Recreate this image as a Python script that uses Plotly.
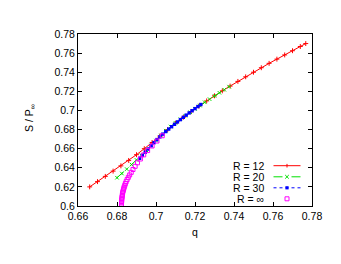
import plotly.graph_objects as go

# ---- data ----
q_r12 = [0.666, 0.670, 0.674, 0.678, 0.682, 0.686, 0.690, 0.694, 0.698, 0.702,
         0.706, 0.710, 0.714, 0.718, 0.722, 0.726, 0.730, 0.734, 0.738, 0.742,
         0.746, 0.750, 0.754, 0.758, 0.762, 0.766, 0.770, 0.774, 0.7768]
s_r12 = [0.6200, 0.6255, 0.6310, 0.6365, 0.6420, 0.6477, 0.6537, 0.6600, 0.6665, 0.6732,
         0.6800, 0.6866, 0.6928, 0.6987, 0.7045, 0.7100, 0.7153, 0.7205, 0.7255, 0.7304,
         0.7352, 0.7400, 0.7447, 0.7493, 0.7537, 0.7581, 0.7625, 0.7669, 0.7700]

q_r20 = [0.6800, 0.6825, 0.6850, 0.6875, 0.6900, 0.6925, 0.6950, 0.6975, 0.7000, 0.7025,
         0.7050, 0.7075, 0.7100, 0.7125, 0.7150, 0.7175, 0.7200, 0.7225, 0.7250, 0.7275,
         0.7300, 0.7325, 0.7350, 0.7375]
s_r20 = [0.6296, 0.6340, 0.6386, 0.6433, 0.6482, 0.6532, 0.6583, 0.6634, 0.6685, 0.6737,
         0.6788, 0.6832, 0.6870, 0.6908, 0.6945, 0.6981, 0.7016, 0.7051, 0.7085, 0.7118,
         0.7152, 0.7185, 0.7217, 0.7249]

q_r30 = [0.6916, 0.6930, 0.6945, 0.6960, 0.6975, 0.6990, 0.7005, 0.7020, 0.7035, 0.7050,
         0.7065, 0.7080, 0.7095, 0.7110, 0.7125, 0.7140, 0.7155, 0.7170, 0.7185, 0.7200,
         0.7215, 0.7230]
s_r30 = [0.6499, 0.6530, 0.6563, 0.6596, 0.6630, 0.6663, 0.6695, 0.6724, 0.6752, 0.6779,
         0.6805, 0.6830, 0.6855, 0.6880, 0.6904, 0.6928, 0.6951, 0.6974, 0.6997, 0.7019,
         0.7041, 0.7062]

q_rinf = [0.6823, 0.6823, 0.6823, 0.6824, 0.6824, 0.6825, 0.6826, 0.6827, 0.6828, 0.6829,
          0.6831, 0.6833, 0.6835, 0.6837, 0.6840, 0.6843, 0.6847, 0.6852, 0.6858, 0.6865,
          0.6873, 0.6882, 0.6893, 0.6905, 0.6920, 0.6937, 0.6957, 0.6980, 0.7005, 0.7032]
s_rinf = [0.6005, 0.6020, 0.6035, 0.6050, 0.6065, 0.6080, 0.6095, 0.6110, 0.6125, 0.6140,
          0.6155, 0.6170, 0.6185, 0.6200, 0.6217, 0.6235, 0.6255, 0.6277, 0.6300, 0.6325,
          0.6352, 0.6382, 0.6415, 0.6452, 0.6492, 0.6535, 0.6580, 0.6628, 0.6680, 0.6735]

x_ticks = [0.66, 0.68, 0.70, 0.72, 0.74, 0.76, 0.78]
x_tick_labels = ["0.66", "0.68", "0.7", "0.72", "0.74", "0.76", "0.78"]
y_ticks = [0.60, 0.62, 0.64, 0.66, 0.68, 0.70, 0.72, 0.74, 0.76, 0.78]
y_tick_labels = ["0.6", "0.62", "0.64", "0.66", "0.68", "0.7", "0.72", "0.74", "0.76", "0.78"]

legend_labels = ["R = 12", "R = 20", "R = 30", "R = ∞"]
x_title = "q"
y_title = "S / P<sub>∞</sub>"

RED = "#ff0000"
GREEN = "#00e000"
BLUE = "#0000ff"
MAGENTA = "#ff00ff"
FONT = "Liberation Sans, Arial, Helvetica, sans-serif"

# page body has an 8px default margin: compensate so the plot lands where the reference has it
OFF = 8
W, H = 341, 264
PLOT_L, PLOT_R, PLOT_T, PLOT_B = 78, 312, 34, 206   # target pixel box in the window
ML = PLOT_L - OFF
MT = PLOT_T - OFF
PW = PLOT_R - PLOT_L
PH = PLOT_B - PLOT_T
MR = W - ML - PW
MB = H - MT - PH

fig = go.Figure()
fig.add_trace(go.Scatter(x=q_r12, y=s_r12, mode="lines+markers", name=legend_labels[0],
                         line=dict(color=RED, width=1),
                         marker=dict(symbol="cross-thin-open", size=3.5, color=RED,
                                     line=dict(color=RED, width=1))))
fig.add_trace(go.Scatter(x=q_r20, y=s_r20, mode="lines+markers", name=legend_labels[1],
                         line=dict(color=GREEN, width=1, dash="dash"),
                         marker=dict(symbol="x-thin-open", size=3.5, color=GREEN,
                                     line=dict(color=GREEN, width=1))))
fig.add_trace(go.Scatter(x=q_r30, y=s_r30, mode="lines+markers", name=legend_labels[2],
                         line=dict(color=BLUE, width=1, dash="dot"),
                         marker=dict(symbol="square", size=3.4, color=BLUE)))
fig.add_trace(go.Scatter(x=q_rinf, y=s_rinf, mode="markers", name=legend_labels[3],
                         marker=dict(symbol="square-open", size=4, color=MAGENTA,
                                     line=dict(color=MAGENTA, width=1))))


def px(x):
    return (x - PLOT_L) / PW


def py(y):
    return (PLOT_B - y) / PH


# ---- manual gnuplot-style key (text left, sample right) ----
rows_y = [165.7, 176.8, 187.8, 198.8]
text_right = 266
line_x0, line_x1, mark_x = 273.5, 300.5, 287
shapes = []
annotations = []
colors = [RED, GREEN, BLUE, MAGENTA]
dashes = ["solid", "dash", "dot", None]
for i, lab in enumerate(legend_labels):
    yy = rows_y[i]
    annotations.append(dict(x=px(text_right), y=py(yy), xref="paper", yref="paper",
                            text=lab, showarrow=False, xanchor="right", yanchor="middle",
                            font=dict(family=FONT, size=10.5, color="black")))
    c = colors[i]
    if dashes[i] is not None:
        shapes.append(dict(type="line", xref="paper", yref="paper",
                           x0=px(line_x0), x1=px(line_x1), y0=py(yy), y1=py(yy),
                           line=dict(color=c, width=1, dash=dashes[i])))
    a = 1.8
    if i == 0:
        shapes.append(dict(type="line", xref="paper", yref="paper", x0=px(mark_x), x1=px(mark_x),
                           y0=py(yy - a), y1=py(yy + a), line=dict(color=c, width=1)))
    elif i == 1:
        for s in (1, -1):
            shapes.append(dict(type="line", xref="paper", yref="paper",
                               x0=px(mark_x - a), x1=px(mark_x + a),
                               y0=py(yy - s * a), y1=py(yy + s * a), line=dict(color=c, width=1)))
    elif i == 2:
        shapes.append(dict(type="rect", xref="paper", yref="paper",
                           x0=px(mark_x - 1.6), x1=px(mark_x + 1.6), y0=py(yy - 1.6), y1=py(yy + 1.6),
                           fillcolor=c, line=dict(color=c, width=0)))
    else:
        shapes.append(dict(type="rect", xref="paper", yref="paper",
                           x0=px(mark_x - 2), x1=px(mark_x + 2), y0=py(yy - 2), y1=py(yy + 2),
                           line=dict(color=c, width=1)))

# y-axis title placed where gnuplot puts it
annotations.append(dict(x=px(30), y=py(118), xref="paper", yref="paper", text=y_title,
                        showarrow=False, textangle=-90, xanchor="center", yanchor="middle",
                        font=dict(family=FONT, size=10.5, color="black")))

axis_common = dict(showgrid=False, zeroline=False, showline=True, linecolor="black",
                   linewidth=1, mirror="allticks", ticks="inside", ticklen=4,
                   tickcolor="black", tickwidth=1,
                   tickfont=dict(family=FONT, size=10.5, color="black"))

fig.update_layout(
    width=W, height=H,
    margin=dict(l=ML, r=MR, t=MT, b=MB, autoexpand=False),
    paper_bgcolor="white", plot_bgcolor="white",
    showlegend=False,
    font=dict(family=FONT, size=10.5, color="black"),
    xaxis=dict(range=[0.66, 0.78], tickvals=x_ticks, ticktext=x_tick_labels,
               title=dict(text=x_title, font=dict(family=FONT, size=10.5), standoff=8),
               **axis_common),
    yaxis=dict(range=[0.60, 0.78], tickvals=y_ticks, ticktext=y_tick_labels,
               **axis_common),
    shapes=shapes,
    annotations=annotations,
)

fig.write_html("out.html")
